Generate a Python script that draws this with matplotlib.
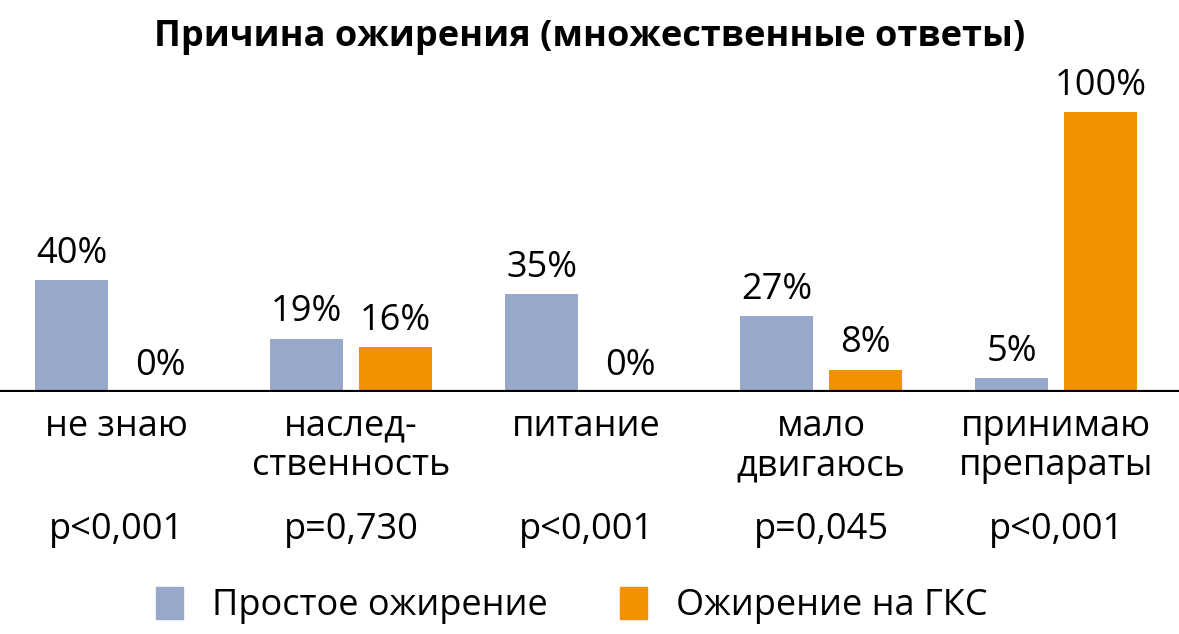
import matplotlib.pyplot as plt
import numpy as np
from matplotlib.patches import Patch

categories = ['не знаю', 'наслед-\nственность', 'питание', 'мало\nдвигаюсь', 'принимаю\nпрепараты']
simple_obesity = [40, 19, 35, 27, 5]
gcs_obesity = [0, 16, 0, 8, 100]
p_values = ['p<0,001', 'p=0,730', 'p<0,001', 'p=0,045', 'p<0,001']
series_names = ['Простое ожирение', 'Ожирение на ГКС']

blue = '#98A8CA'
orange = '#F29200'

plt.rcParams['font.family'] = ['Open Sans', 'DejaVu Sans']

fig = plt.figure(figsize=(11.79, 6.34), dpi=100)
ax = fig.add_axes([0, 0.3817, 1, 0.5236])

x = np.arange(len(categories))
w = 0.31
off = 0.189
ax.bar(x - off, simple_obesity, width=w, color=blue)
ax.bar(x + off, gcs_obesity, width=w, color=orange)

# value labels above bars
for i in range(len(categories)):
    ax.text(x[i] - off, simple_obesity[i] + 3, f'{simple_obesity[i]}%',
            ha='center', va='bottom', fontsize=26)
    ax.text(x[i] + off, gcs_obesity[i] + 3, f'{gcs_obesity[i]}%',
            ha='center', va='bottom', fontsize=26)

ax.set_xlim(-0.494, 4.523)
ax.set_ylim(0, 118.6)
ax.axhline(0, color='black', linewidth=3)
for s in ax.spines.values():
    s.set_visible(False)
ax.set_xticks([])
ax.set_yticks([])

# category names and p-values under the axis
for i, cat in enumerate(categories):
    ax.text(x[i], -6, cat, ha='center', va='top', fontsize=26,
            linespacing=1.12)
    ax.text(x[i], -43, p_values[i], ha='center', va='top', fontsize=26)

fig.text(0.5, 0.942, 'Причина ожирения (множественные ответы)',
         ha='center', va='center', fontsize=26, fontweight='bold')

handles = [Patch(color=blue, label=series_names[0]),
           Patch(color=orange, label=series_names[1])]
fig.legend(handles=handles, loc='center', bbox_to_anchor=(0.485, 0.045),
           ncol=2, frameon=False, fontsize=26, handlelength=0.75,
           handleheight=1.0, columnspacing=2.0, handletextpad=0.8)

plt.savefig('out.png', dpi=100)
